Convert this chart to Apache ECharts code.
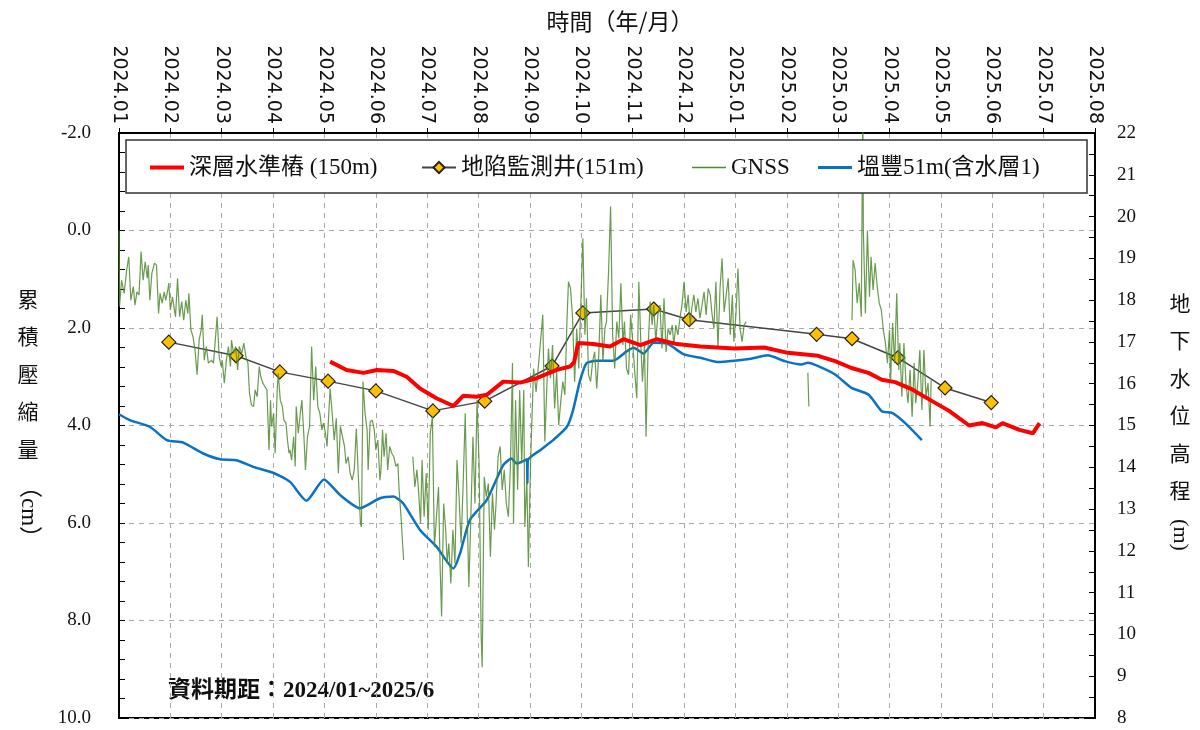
<!DOCTYPE html>
<html>
<head>
<meta charset="utf-8">
<script src="https://cdn.jsdelivr.net/npm/echarts@6/dist/echarts.min.js"></script>
<style>
  html, body { margin: 0; padding: 0; background: #fff; }
  #chart { width: 1200px; height: 730px; }
</style>
</head>
<body>
<div id="chart"></div>
<script>
// month ticks along the top axis (index 0 = 2024.01)
var monthLabels = ['2024.01','2024.02','2024.03','2024.04','2024.05','2024.06','2024.07','2024.08',
  '2024.09','2024.10','2024.11','2024.12','2025.01','2025.02','2025.03','2025.04','2025.05',
  '2025.06','2025.07','2025.08'];

var seriesNames = ['深層水準樁 (150m)', '地陷監測井(151m)', 'GNSS', '塭豐51m(含水層1)'];

// [month index, cm]  (left axis, compaction)
var benchmark150 = [
  [4.11,2.69],[4.43,2.86],[4.76,2.92],[5.02,2.86],[5.34,2.88],[5.60,3.00],[5.86,3.24],[6.18,3.44],
  [6.51,3.60],[6.70,3.39],[6.96,3.41],[7.16,3.37],[7.48,3.10],[7.81,3.12],[8.13,3.03],[8.52,2.86],
  [8.78,2.79],[8.86,2.70],[8.94,2.31],[9.23,2.33],[9.56,2.38],[9.82,2.23],[10.15,2.35],[10.47,2.23],
  [10.86,2.33],[11.32,2.38],[11.98,2.42],[12.56,2.40],[13.02,2.51],[13.61,2.57],[13.94,2.68],
  [14.26,2.82],[14.59,2.92],[14.85,3.06],[15.11,3.11],[15.44,3.26],[15.83,3.50],[16.16,3.70],
  [16.55,4.00],[16.81,3.95],[17.07,4.04],[17.20,3.95],[17.53,4.09],[17.79,4.16],[17.92,3.95]
];

var well151 = [
  [0.97,2.29],[2.28,2.57],[3.13,2.90],[4.07,3.09],[5.00,3.29],[6.11,3.70],[7.12,3.50],[8.43,2.78],
  [9.03,1.69],[10.41,1.61],[11.10,1.83],[13.58,2.13],[14.27,2.22],[15.16,2.61],[16.08,3.23],[16.98,3.53]
];

var gnss = [
  [0.00,0.00],[0.01,1.56],[0.05,1.02],[0.10,1.29],[0.15,0.81],[0.19,0.54],[0.23,1.43],[0.28,1.15],
  [0.31,1.53],[0.35,1.26],[0.39,1.32],[0.43,0.43],[0.47,1.02],[0.51,0.64],[0.55,0.98],[0.57,0.71],
  [0.60,1.43],[0.64,0.88],[0.69,0.67],[0.73,0.71],[0.77,1.70],[0.80,1.29],[0.84,1.49],[0.88,1.26],
  [0.91,1.43],[0.95,1.22],[0.97,1.08],[1.00,1.63],[1.04,1.36],[1.10,1.77],[1.14,0.98],[1.18,1.77],
  [1.22,1.46],[1.26,1.84],[1.30,1.43],[1.34,1.70],[1.36,1.29],[1.40,2.04],[1.44,2.18],[1.48,2.45],
  [1.52,2.96],[1.56,2.25],[1.60,2.04],[1.62,1.73],[1.66,2.66],[1.70,2.38],[1.74,2.72],[1.80,2.66],
  [1.84,2.72],[1.87,2.76],[1.91,1.77],[1.95,2.59],[1.99,2.79],[2.01,2.66],[2.05,3.13],[2.09,2.66],
  [2.13,2.38],[2.17,2.79],[2.19,2.25],[2.23,2.52],[2.27,2.38],[2.31,2.86],[2.34,2.38],[2.39,2.52],
  [2.43,2.31],[2.47,2.59],[2.51,2.72],[2.54,3.34],[2.58,3.58],[2.62,3.61],[2.65,3.27],[2.69,3.41],
  [2.73,2.79],[2.76,3.00],[2.80,3.13],[2.84,3.20],[2.88,3.27],[2.92,4.50],[2.95,3.48],[2.97,4.02],
  [3.01,3.75],[3.04,4.57],[3.08,3.27],[3.10,2.93],[3.14,3.48],[3.18,3.61],[3.21,3.89],[3.25,3.95],
  [3.28,4.30],[3.31,4.57],[3.33,4.50],[3.36,4.71],[3.40,4.23],[3.43,4.84],[3.45,3.61],[3.49,4.16],
  [3.53,3.75],[3.56,3.48],[3.60,4.23],[3.63,4.91],[3.67,4.23],[3.71,4.02],[3.75,2.38],[3.79,3.48],
  [3.83,2.79],[3.87,3.61],[3.91,3.75],[3.95,4.09],[3.98,3.95],[4.02,4.16],[4.05,4.43],[4.11,3.24],
  [4.15,3.75],[4.19,4.30],[4.23,3.85],[4.27,4.98],[4.31,4.02],[4.35,4.23],[4.39,4.43],[4.42,4.78],
  [4.46,4.64],[4.50,4.98],[4.54,5.12],[4.58,4.91],[4.62,4.06],[4.66,5.05],[4.70,6.01],[4.72,6.08],
  [4.75,3.10],[4.79,3.75],[4.83,4.09],[4.85,4.91],[4.89,3.92],[4.93,3.89],[4.97,4.09],[5.00,4.50],
  [5.04,4.30],[5.08,5.12],[5.10,4.91],[5.13,4.09],[5.16,4.64],[5.20,4.16],[5.23,4.91],[5.27,4.43],
  [5.31,4.57],[5.35,4.64],[5.39,4.84],[5.43,4.78],[5.45,5.26],[5.49,5.87],[5.54,6.76],[5.62,'-'],
  [5.72,4.64],[5.76,5.26],[5.80,4.91],[5.83,5.32],[5.87,6.01],[5.90,4.71],[5.94,5.87],[5.98,4.98],
  [6.02,6.14],[6.06,4.16],[6.10,3.82],[6.14,6.49],[6.18,5.87],[6.22,5.26],[6.25,6.83],[6.28,7.92],
  [6.32,5.60],[6.36,6.14],[6.39,6.83],[6.42,6.42],[6.46,7.24],[6.50,6.14],[6.54,6.83],[6.58,4.71],
  [6.62,5.46],[6.66,6.42],[6.70,5.19],[6.74,3.75],[6.77,5.32],[6.81,7.31],[6.85,5.87],[6.89,4.23],
  [6.93,5.60],[6.97,3.48],[7.01,4.78],[7.05,8.29],[7.07,8.96],[7.11,5.05],[7.15,5.46],[7.19,5.19],
  [7.23,6.69],[7.27,5.39],[7.31,6.14],[7.34,5.60],[7.38,4.64],[7.42,4.43],[7.46,5.32],[7.50,4.91],
  [7.54,5.60],[7.58,5.87],[7.62,4.84],[7.66,2.72],[7.68,6.01],[7.72,3.48],[7.76,5.32],[7.80,3.27],
  [7.84,4.78],[7.88,3.27],[7.90,6.08],[7.94,5.12],[7.97,6.90],[8.01,4.84],[8.07,2.83],[8.12,3.31],
  [8.16,2.83],[8.20,2.35],[8.25,1.73],[8.29,4.33],[8.33,3.17],[8.36,2.42],[8.40,3.03],[8.44,2.35],
  [8.48,3.65],[8.52,2.90],[8.56,3.99],[8.60,3.51],[8.64,3.10],[8.68,3.37],[8.72,1.87],[8.75,1.05],
  [8.79,1.19],[8.83,1.80],[8.87,3.10],[8.91,2.01],[8.95,2.83],[8.99,1.53],[9.03,0.16],[9.07,2.14],
  [9.10,1.39],[9.14,2.96],[9.18,3.10],[9.22,2.69],[9.26,2.49],[9.30,3.24],[9.34,2.55],[9.38,1.32],
  [9.42,2.69],[9.46,2.01],[9.49,1.87],[9.53,0.85],[9.57,-0.49],[9.61,2.14],[9.65,2.83],[9.69,1.87],
  [9.73,2.21],[9.77,1.08],[9.81,2.35],[9.84,1.87],[9.88,2.83],[9.92,2.96],[9.96,1.73],[10.00,2.28],
  [10.04,2.90],[10.08,3.44],[10.12,1.05],[10.16,2.35],[10.19,3.10],[10.23,2.35],[10.26,4.23],[10.30,2.42],
  [10.34,1.46],[10.38,1.94],[10.41,1.53],[10.45,2.28],[10.49,1.73],[10.53,1.53],[10.57,2.42],[10.61,1.39],
  [10.65,2.49],[10.69,2.01],[10.73,2.14],[10.77,1.94],[10.80,2.35],[10.84,1.94],[10.88,2.14],[10.92,1.80],
  [10.96,1.53],[11.00,1.05],[11.04,1.67],[11.08,1.32],[11.12,1.94],[11.15,1.60],[11.19,1.32],[11.23,1.67],
  [11.27,1.39],[11.31,1.80],[11.35,1.53],[11.39,1.26],[11.43,1.73],[11.47,1.19],[11.51,1.32],[11.54,1.67],
  [11.58,2.01],[11.62,1.05],[11.66,2.42],[11.70,1.19],[11.74,0.57],[11.78,1.67],[11.82,1.32],[11.86,0.98],
  [11.90,2.14],[11.94,1.32],[11.97,2.28],[12.01,1.73],[12.05,0.78],[12.09,2.01],[12.13,2.28],[12.17,1.94],
  [12.21,1.87],[12.8,'-'],
  [13.41,2.92],[13.43,3.61],[13.9,'-'],
  [14.27,1.84],[14.29,0.61],[14.33,0.81],[14.37,1.49],[14.41,1.08],[14.45,1.77],[14.48,-2.6],[14.49,-0.01],
  [14.53,1.70],[14.57,0.00],[14.61,1.36],[14.64,0.54],[14.68,1.22],[14.72,0.67],[14.76,1.15],[14.80,1.49],
  [14.84,1.63],[14.88,2.04],[14.92,2.31],[14.96,2.72],[15.00,2.04],[15.02,3.13],[15.06,1.90],[15.10,2.72],
  [15.14,1.29],[15.18,2.86],[15.20,2.31],[15.24,3.41],[15.28,2.31],[15.32,3.13],[15.36,3.54],[15.40,2.86],
  [15.44,3.82],[15.48,2.72],[15.51,3.54],[15.55,3.13],[15.59,2.45],[15.63,3.68],[15.67,2.45],[15.71,3.41],
  [15.75,3.13],[15.79,4.02],[15.81,3.07]
];

// [month index, m]  (right axis, groundwater level)
var wenfeng51 = [
  [0.00,15.27],[0.21,15.13],[0.60,14.97],[0.93,14.65],[1.25,14.59],[1.64,14.33],[1.97,14.19],[2.29,14.17],
  [2.61,14.01],[3.00,13.87],[3.33,13.65],[3.65,13.20],[3.99,13.71],[4.30,13.34],[4.69,13.02],[5.08,13.26],
  [5.34,13.30],[5.53,13.14],[5.86,12.50],[6.18,12.10],[6.51,11.58],[6.64,11.94],[6.83,12.74],[7.16,13.22],
  [7.48,14.05],[7.64,14.21],[7.74,14.09],[7.94,14.19],[7.95,13.62],[7.96,14.17],[8.20,14.41],[8.45,14.65],
  [8.72,14.97],[8.84,15.37],[8.97,16.05],[9.10,16.49],[9.30,16.55],[9.62,16.55],[9.89,16.78],[10.02,16.86],
  [10.21,16.72],[10.41,16.98],[10.67,16.96],[11.00,16.70],[11.32,16.62],[11.65,16.52],[11.98,16.55],
  [12.30,16.60],[12.63,16.68],[12.96,16.54],[13.28,16.46],[13.41,16.50],[13.61,16.42],[13.94,16.22],
  [14.26,15.90],[14.59,15.74],[14.85,15.34],[15.05,15.30],[15.31,15.05],[15.63,14.65]
];

var serif = "'Liberation Serif', 'Noto Sans CJK TC', serif";
var cjk = "'Noto Sans CJK TC', sans-serif";

var chart = echarts.init(document.getElementById('chart'));

function legendAt(name, left, icon) {
  var item = { name: name };
  if (icon) item.icon = icon;
  return {
    data: [item], left: left, top: 151, zlevel: 1, z: 10,
    itemWidth: 34, itemHeight: 14,
    textStyle: { fontSize: 23, fontFamily: serif, color: '#111' }
  };
}

var option = {
  animation: false,
  backgroundColor: '#fff',
  grid: {
    left: 119, right: 105, top: 133, bottom: 12,
    show: true, borderColor: '#000', borderWidth: 2, backgroundColor: 'transparent'
  },
  legend: [
    legendAt(seriesNames[0], 145, 'path://M0,0h34v4h-34z'),
    legendAt(seriesNames[1], 416, null),
    legendAt(seriesNames[2], 687, 'path://M0,0h34v1.5h-34z'),
    legendAt(seriesNames[3], 813, 'path://M0,0h34v3h-34z')
  ],
  xAxis: {
    type: 'value', position: 'top', min: 0, max: 19, interval: 1,
    axisLine: { onZero: false, lineStyle: { color: '#000', width: 2 } },
    axisTick: { length: 5, lineStyle: { color: '#000' } },
    axisLabel: {
      rotate: 90, margin: 9, fontSize: 19, fontFamily: "'DejaVu Sans', sans-serif", color: '#111',
      formatter: function (v) { return monthLabels[Math.round(v)]; }
    },
    splitLine: { show: true, lineStyle: { color: '#aaa', type: [5, 5], width: 1 } }
  },
  yAxis: [
    {
      type: 'value', inverse: true, min: -2, max: 10, interval: 2, position: 'left',
      axisLine: { show: true, onZero: false, lineStyle: { color: '#000', width: 2 } },
      axisTick: { show: true, inside: true, length: 6, lineStyle: { color: '#000' } },
      minorTick: { show: true, splitNumber: 5, length: 6, lineStyle: { color: '#000' } },
      axisLabel: {
        margin: 28, fontSize: 19, fontFamily: serif, color: '#111',
        formatter: function (v) { return v.toFixed(1); }
      },
      splitLine: { show: true, lineStyle: { color: '#aaa', type: [5, 5], width: 1 } }
    },
    {
      type: 'value', min: 8, max: 22, interval: 1, position: 'right',
      axisLine: { show: true, onZero: false, lineStyle: { color: '#000', width: 2 } },
      axisTick: { show: true, inside: true, length: 6, lineStyle: { color: '#000' } },
      minorTick: { show: true, splitNumber: 2, length: 6, lineStyle: { color: '#000' } },
      axisLabel: { margin: 22, fontSize: 19, fontFamily: serif, color: '#111' },
      splitLine: { show: false }
    }
  ],
  series: [
    {
      name: seriesNames[3], type: 'line', yAxisIndex: 1, data: wenfeng51,
      symbol: 'none', smooth: 0.2, z: 2,
      lineStyle: { color: '#0a72c4', width: 2.5 }, itemStyle: { color: '#0a72c4' }
    },
    {
      name: seriesNames[1], type: 'line', yAxisIndex: 0, data: well151,
      symbol: 'diamond', symbolSize: 14, z: 3,
      lineStyle: { color: '#444', width: 1.5 },
      itemStyle: { color: '#ffc000', borderColor: '#222', borderWidth: 1.2 }
    },
    {
      name: seriesNames[2], type: 'line', yAxisIndex: 0, data: gnss,
      symbol: 'none', z: 4, connectNulls: false,
      lineStyle: { color: '#4f8a30', width: 1.2, opacity: 0.85 }, itemStyle: { color: '#4f8a30' }
    },
    {
      name: seriesNames[0], type: 'line', yAxisIndex: 0, data: benchmark150,
      symbol: 'none', z: 5,
      lineStyle: { color: '#ff0000', width: 4 }, itemStyle: { color: '#ff0000' }
    }
  ],
  graphic: [
    {
      type: 'rect', zlevel: 1, z: 1,
      shape: { x: 126, y: 140, width: 961, height: 53 },
      style: { fill: '#fff', stroke: '#333', lineWidth: 1.5 }
    },
    {
      type: 'text', x: 620, y: 21,
      style: { text: '時間（年/月）', fontSize: 23, fontFamily: cjk, fill: '#111',
        textAlign: 'center', textVerticalAlign: 'middle' }
    },
    {
      type: 'text', x: 28, y: 280,
      style: { text: '累\n積\n壓\n縮\n量', fontSize: 21, lineHeight: 37.5, fontFamily: cjk,
        fill: '#111', textAlign: 'center', textVerticalAlign: 'top' }
    },
    {
      type: 'text', x: 28, y: 512, rotation: -Math.PI / 2,
      style: { text: '（cm）', fontSize: 23, fontFamily: serif, fill: '#111',
        textAlign: 'center', textVerticalAlign: 'middle' }
    },
    {
      type: 'text', x: 1180, y: 284,
      style: { text: '地\n下\n水\n位\n高\n程', fontSize: 21, lineHeight: 37.5, fontFamily: cjk,
        fill: '#111', textAlign: 'center', textVerticalAlign: 'top' }
    },
    {
      type: 'text', x: 1180, y: 535, rotation: -Math.PI / 2,
      style: { text: '(m)', fontSize: 22, fontFamily: serif, fill: '#111',
        textAlign: 'center', textVerticalAlign: 'middle' }
    },
    {
      type: 'text', x: 168, y: 691,
      style: { text: '資料期距：2024/01~2025/6', fontSize: 23, fontWeight: 'bold', fontFamily: serif,
        fill: '#111', textAlign: 'left', textVerticalAlign: 'middle' }
    }
  ]
};

chart.setOption(option);
</script>
</body>
</html>
